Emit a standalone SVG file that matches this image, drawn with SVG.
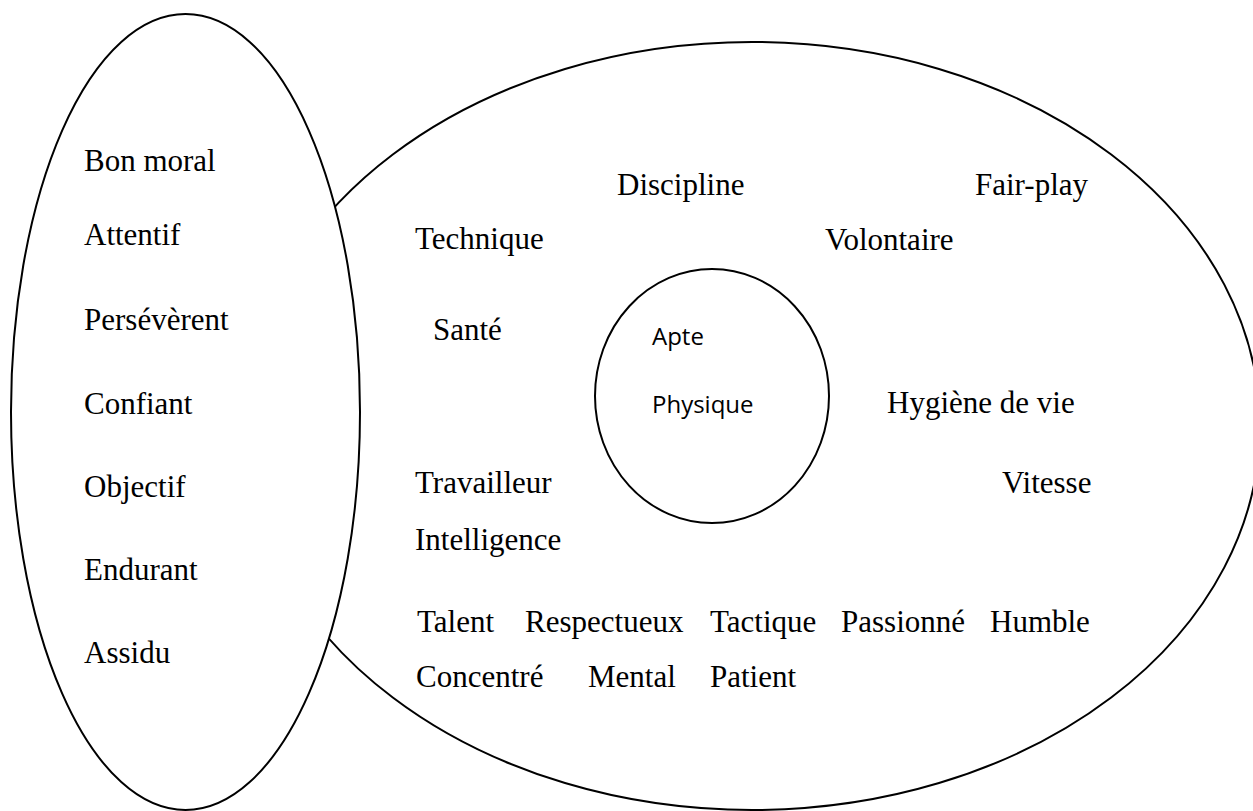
<svg xmlns="http://www.w3.org/2000/svg" width="1253" height="811" viewBox="0 0 1253 811">
<style>
.sh{fill:#fff;stroke:#000;stroke-width:2}
.t{font-family:"Liberation Serif","Times New Roman",serif;font-size:31px;fill:#000}
.s{font-family:"Open Sans","Liberation Sans",sans-serif;font-size:24px;fill:#000}
</style>
<rect width="1253" height="811" fill="#fff"/>
<g id="outer">
<ellipse class="sh" cx="752" cy="426" rx="508" ry="384"/>
<text class="t" x="617" y="195">Discipline</text>
<text class="t" x="975" y="195">Fair-play</text>
<text class="t" x="415" y="249">Technique</text>
<text class="t" x="825" y="250">Volontaire</text>
<text class="t" x="433" y="340">Santé</text>
<text class="t" x="887" y="413">Hygiène de vie</text>
<text class="t" x="415" y="493">Travailleur</text>
<text class="t" x="1002" y="493">Vitesse</text>
<text class="t" x="415" y="550">Intelligence</text>
<text class="t" x="417" y="632">Talent</text>
<text class="t" x="525" y="632">Respectueux</text>
<text class="t" x="710" y="632">Tactique</text>
<text class="t" x="841" y="632">Passionné</text>
<text class="t" x="990" y="632">Humble</text>
<text class="t" x="416" y="687">Concentré</text>
<text class="t" x="588" y="687">Mental</text>
<text class="t" x="710" y="687">Patient</text>
</g>
<g id="left">
<ellipse class="sh" cx="185.5" cy="412" rx="174.5" ry="398"/>
<text class="t" x="84" y="171">Bon moral</text>
<text class="t" x="84" y="245">Attentif</text>
<text class="t" x="84" y="330">Persévèrent</text>
<text class="t" x="84" y="414">Confiant</text>
<text class="t" x="84" y="497">Objectif</text>
<text class="t" x="84" y="580">Endurant</text>
<text class="t" x="84" y="663">Assidu</text>
</g>
<g id="center">
<ellipse class="sh" cx="712" cy="396" rx="117" ry="127"/>
<text class="s" x="652" y="345">Apte</text>
<text class="s" x="652" y="413">Physique</text>
</g>
<g id="connectors"></g>
</svg>
